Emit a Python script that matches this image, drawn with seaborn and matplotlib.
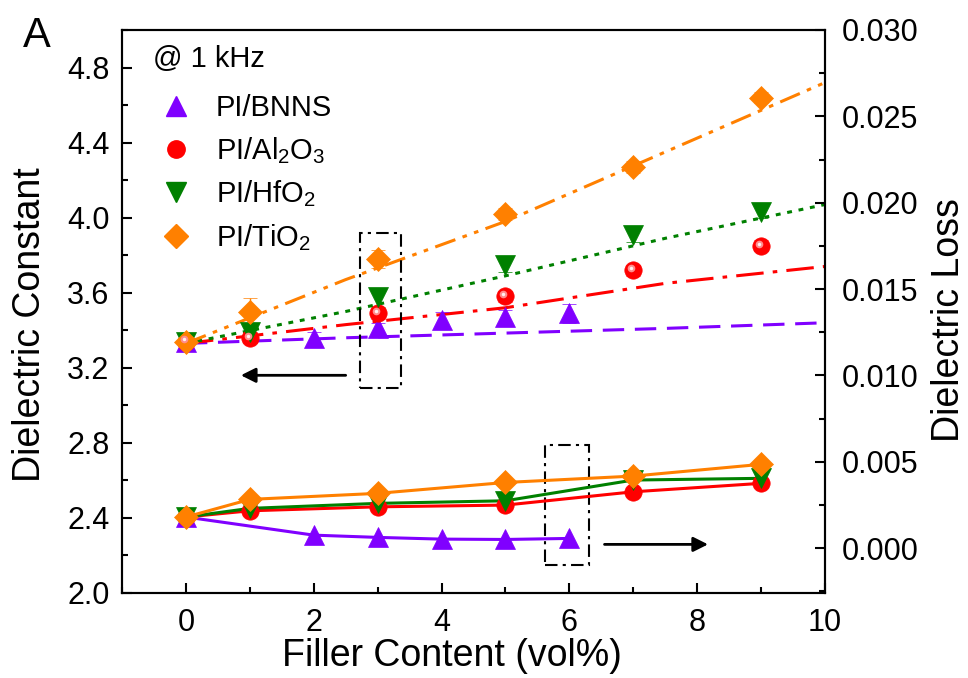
import numpy as np
import pandas as pd
import matplotlib
matplotlib.use("Agg")
import matplotlib.pyplot as plt
import matplotlib.transforms as mtransforms
from matplotlib.lines import Line2D
from matplotlib.patches import Rectangle
from matplotlib.ticker import MultipleLocator, FormatStrFormatter
import seaborn as sns

# ---------------- data ----------------
x_bnns = [0, 2, 3, 4, 5, 6]
x_oxide = [0, 1, 3, 5, 7, 9]

# dielectric constant (left axis)
k_bnns = [3.34, 3.36, 3.41, 3.455, 3.47, 3.49]
k_bnns_err = [0.02, 0.03, 0.03, 0.04, 0.04, 0.05]
k_al2o3 = [3.34, 3.36, 3.49, 3.58, 3.72, 3.85]
k_al2o3_err = [0.02, 0.03, 0.03, 0.03, 0.03, 0.03]
k_hfo2 = [3.34, 3.39, 3.575, 3.75, 3.91, 4.03]
k_hfo2_err = [0.02, 0.03, 0.05, 0.04, 0.04, 0.03]
k_tio2 = [3.34, 3.50, 3.78, 4.02, 4.27, 4.64]
k_tio2_err = [0.02, 0.07, 0.05, 0.03, 0.03, 0.03]

# fitted trend lines for dielectric constant
fit_x = [0, 2.5, 5, 7.5, 10]
fit_bnns = [3.33, 3.36, 3.385, 3.41, 3.44]
fit_al2o3 = [3.33, 3.43, 3.52, 3.65, 3.74]
fit_hfo2 = [3.33, 3.50, 3.69, 3.89, 4.07]
fit_tio2 = [3.33, 3.67, 3.98, 4.35, 4.72]

# dielectric loss (right axis)
loss_bnns = [0.0018, 0.00075, 0.00062, 0.00052, 0.00050, 0.00056]
loss_al2o3 = [0.0018, 0.00216, 0.00239, 0.00249, 0.00326, 0.00375]
loss_hfo2 = [0.0018, 0.00230, 0.00259, 0.00274, 0.00394, 0.00404]
loss_tio2 = [0.0018, 0.00282, 0.00317, 0.00380, 0.00417, 0.00485]
loss_err = [0.00015, 0.00015, 0.00015, 0.00015, 0.00015, 0.00015]

labels = ["PI/BNNS", r"PI/Al$_2$O$_3$", r"PI/HfO$_2$", r"PI/TiO$_2$"]
colors = ["#8000FF", "#FF0000", "#008000", "#FF8000"]
markers = ["^", "o", "v", "D"]
msizes = [15, 12.5, 15, 12]

# ---------------- style ----------------
sns.set_theme(style="ticks")
plt.rcParams["font.family"] = ["Liberation Sans", "DejaVu Sans"]
plt.rcParams["mathtext.fontset"] = "custom"
plt.rcParams["mathtext.rm"] = "Liberation Sans"
plt.rcParams["mathtext.it"] = "Liberation Sans:italic"
plt.rcParams["axes.linewidth"] = 1.5
for key in ["text.color", "axes.labelcolor", "xtick.color", "ytick.color", "axes.edgecolor"]:
    plt.rcParams[key] = "black"

fig = plt.figure(figsize=(9.68, 6.78), dpi=100)
ax = fig.add_axes([122 / 968, 1 - 593 / 678, 703 / 968, 563 / 678])
ax2 = ax.twinx()

# ---------------- fitted lines (left axis) ----------------
fit_sets = [fit_bnns, fit_al2o3, fit_hfo2, fit_tio2]
fit_styles = [(0, (7, 3.5)), (0, (9, 3, 1.5, 3)), (0, (1.6, 2.2)), (0, (7, 2.5, 1.5, 2.5, 1.5, 2.5))]
for fy, c, st in zip(fit_sets, colors, fit_styles):
    sns.lineplot(x=fit_x, y=fy, ax=ax, color=c, lw=2.2, linestyle=st, legend=False)

# ---------------- dielectric constant markers ----------------
k_sets = [(x_bnns, k_bnns, k_bnns_err), (x_oxide, k_al2o3, k_al2o3_err),
          (x_oxide, k_hfo2, k_hfo2_err), (x_oxide, k_tio2, k_tio2_err)]
for (xx, yy, ee), c, m, s in zip(k_sets, colors, markers, msizes):
    ax.errorbar(xx, yy, yerr=ee, fmt=m, ls="none", color=c, ms=s, mec=c, mew=0.5,
                elinewidth=1.0, capsize=5, capthick=1.0, zorder=3)

# ---------------- dielectric loss lines + markers ----------------
loss_sets = [(x_bnns, loss_bnns), (x_oxide, loss_al2o3), (x_oxide, loss_hfo2), (x_oxide, loss_tio2)]
for (xx, yy), c in zip(loss_sets, colors):
    sns.lineplot(x=xx, y=yy, ax=ax2, color=c, lw=2.2, legend=False, zorder=2)
for (xx, yy), c, m, s in zip(loss_sets, colors, markers, msizes):
    ax2.errorbar(xx, yy, yerr=loss_err, fmt=m, ls="none", color=c, ms=s, mec=c, mew=0.5,
                 elinewidth=1.0, capsize=0, zorder=3)

# sphere highlight on the Al2O3 balls
hl = mtransforms.ScaledTranslation(-1.5 / 72, 1.5 / 72, fig.dpi_scale_trans)
ax.plot(x_oxide, k_al2o3, "o", ms=5.5, color="#ff8c8c", mec="none", transform=ax.transData + hl, zorder=4)
ax.plot(x_oxide, k_al2o3, "o", ms=2.5, color="#fff0f0", mec="none", transform=ax.transData + hl, zorder=4)
ax2.plot(x_oxide, loss_al2o3, "o", ms=5, color="#ff8c8c", mec="none", transform=ax2.transData + hl, zorder=2.5)

# ---------------- axes ----------------
ax.set_xlim(-1, 10)
ax.set_ylim(2.0, 5.0)
ax2.set_ylim(-0.0026, 0.030)

ax.xaxis.set_major_locator(MultipleLocator(2))
ax.xaxis.set_minor_locator(MultipleLocator(1))
ax.yaxis.set_major_locator(MultipleLocator(0.4))
ax.yaxis.set_minor_locator(MultipleLocator(0.2))
ax.yaxis.set_major_formatter(FormatStrFormatter("%.1f"))
ax2.yaxis.set_major_locator(MultipleLocator(0.005))
ax2.yaxis.set_minor_locator(MultipleLocator(0.0025))
ax2.yaxis.set_major_formatter(FormatStrFormatter("%.3f"))

ax.tick_params(axis="both", which="major", direction="in", length=7.5, width=1.5,
               labelsize=22, top=False, right=False)
ax.tick_params(axis="both", which="minor", direction="in", length=4, width=1.5,
               top=False, right=False)
ax.tick_params(axis="x", which="major", pad=11)
ax.tick_params(axis="y", which="major", pad=9)
ax2.tick_params(axis="y", which="major", direction="in", length=7.5, width=1.5,
                labelsize=22, pad=12)
ax2.tick_params(axis="y", which="minor", direction="in", length=4, width=1.5)
for a in (ax, ax2):
    for sp in a.spines.values():
        sp.set_linewidth(1.5)
        sp.set_color("black")
        sp.set_visible(True)
ax.grid(False)
ax2.grid(False)

ax.set_xlabel("Filler Content (vol%)", fontsize=27)
ax.set_ylabel("Dielectric Constant", fontsize=27)
ax2.set_ylabel("Dielectric Loss", fontsize=27)
ax.xaxis.set_label_coords(0.469, -0.080)
ax.yaxis.set_label_coords(-0.131, 0.476)
ax.yaxis.label.set_va("center")
ax2.yaxis.set_label_coords(1.176, 0.485)
ax2.yaxis.label.set_va("center")

# ---------------- annotations ----------------
ax.annotate("", xy=(0.86, 3.16), xytext=(2.5, 3.16),
            arrowprops=dict(arrowstyle="-|>", lw=2, color="black", mutation_scale=22,
                            shrinkA=0, shrinkB=0))
ax2.annotate("", xy=(8.17, 0.000215), xytext=(6.55, 0.000215),
             arrowprops=dict(arrowstyle="-|>", lw=2, color="black", mutation_scale=22,
                             shrinkA=0, shrinkB=0))
ax.add_patch(Rectangle((2.72, 3.09), 0.64, 0.83, fill=False, ec="black", lw=1.5,
                       ls=(0, (6, 2.5, 1.5, 2.5)), zorder=5))
ax.add_patch(Rectangle((5.62, 2.15), 0.68, 0.64, fill=False, ec="black", lw=1.5,
                       ls=(0, (6, 2.5, 1.5, 2.5)), zorder=5))

ax.text(0.044, 0.934, "@ 1 kHz", transform=ax.transAxes, fontsize=21, va="baseline", ha="left")
fig.text(37 / 968, 1 - 47 / 678, "A", fontsize=30, ha="center", va="baseline")

handles = [Line2D([], [], marker=m, ls="none", color=c, ms=s, mec=c)
           for m, c, s in zip(markers, colors, msizes)]
ax.legend(handles, labels, loc="upper left", bbox_to_anchor=(0.056, 0.886), frameon=False,
          fontsize=21, handlelength=1.0, handletextpad=0.86, labelspacing=0.44,
          borderaxespad=0, borderpad=0, numpoints=1)

fig.savefig("out.png", dpi=100)
